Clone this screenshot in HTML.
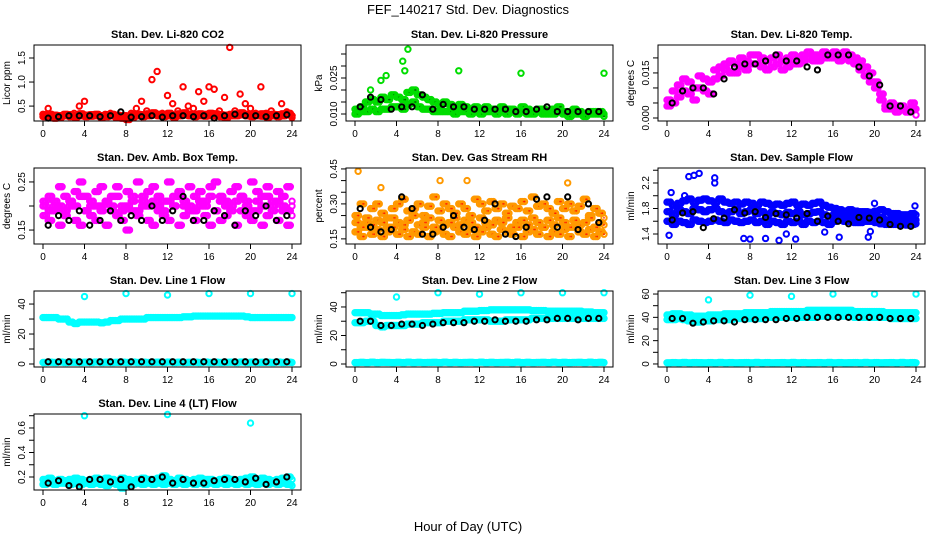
<!DOCTYPE html>
<html><head><meta charset="utf-8"><style>
html,body{margin:0;padding:0;background:#fff;}
svg{display:block;font-family:"Liberation Sans",Arial,sans-serif;}
</style></head><body>
<svg id="chart" width="936" height="540" viewBox="0 0 936 540" xmlns="http://www.w3.org/2000/svg">
<rect x="0" y="0" width="936" height="540" fill="#fff"/>
<text x="468" y="14" text-anchor="middle" font-size="13">FEF_140217  Std. Dev. Diagnostics</text>
<text x="468" y="531" text-anchor="middle" font-size="13">Hour of Day (UTC)</text>
</svg>
<script>
const xTicks=[0,4,8,12,16,20,24];

const co2Red1=[0.33,0.45,0.3,0.28,0.32,0.3,0.35,0.5,0.6,0.3,0.32,0.3,0.33,0.35,0.3,0.28,0.3,0.35,0.45,0.6,0.4,1.05,1.22,0.35,0.72,0.55,0.4,0.9,0.5,0.45,0.8,0.6,0.9,0.85,0.4,0.68,1.72,0.4,0.75,0.55,0.45,0.35,0.9,0.35,0.4,0.3,0.55,0.38,0.3];
const co2Red2=[0.28,0.3,0.25,0.27,0.3,0.28,0.27,0.3,0.28,0.29,0.3,0.27,0.28,0.3,0.26,0.25,0.22,0.27,0.3,0.28,0.3,0.33,0.3,0.28,0.3,0.27,0.3,0.32,0.3,0.28,0.3,0.29,0.3,0.3,0.28,0.26,0.3,0.3,0.32,0.3,0.28,0.3,0.29,0.27,0.3,0.28,0.3,0.32,0.26];
const co2Red3=[0.32,0.33,0.31,0.3,0.33,0.32,0.3,0.34,0.31,0.32,0.33,0.3,0.32,0.33,0.31,0.3,0.29,0.31,0.33,0.32,0.34,0.36,0.33,0.32,0.35,0.31,0.34,0.36,0.33,0.32,0.34,0.33,0.35,0.34,0.32,0.31,0.33,0.34,0.36,0.33,0.32,0.33,0.34,0.31,0.33,0.32,0.34,0.35,0.3];
const co2Black=[0.25,0.28,0.3,0.3,0.3,0.28,0.3,0.38,0.27,0.28,0.3,0.27,0.3,0.3,0.28,0.3,0.25,0.3,0.33,0.3,0.3,0.28,0.3,0.32];

const presGreen1=[0.012,0.013,0.015,0.016,0.015,0.017,0.016,0.018,0.017,0.016,0.019,0.02,0.018,0.017,0.016,0.015,0.014,0.015,0.014,0.013,0.014,0.013,0.012,0.013,0.012,0.013,0.012,0.012,0.013,0.012,0.012,0.011,0.013,0.012,0.011,0.012,0.012,0.011,0.012,0.013,0.011,0.011,0.012,0.011,0.01,0.011,0.011,0.011,0.01];
const presGreen2=[0.01,0.011,0.011,0.012,0.011,0.012,0.012,0.013,0.013,0.012,0.014,0.015,0.013,0.012,0.012,0.011,0.011,0.011,0.011,0.01,0.011,0.011,0.01,0.011,0.01,0.011,0.011,0.01,0.011,0.01,0.011,0.01,0.011,0.01,0.01,0.011,0.01,0.01,0.01,0.011,0.01,0.009,0.01,0.01,0.009,0.01,0.01,0.01,0.009];
const presOutX=[1.5,2.5,3,4.6,4.8,5.1,10,16,24];
const presOutY=[0.02,0.024,0.026,0.032,0.028,0.037,0.028,0.027,0.027];
const presBlack=[0.013,0.017,0.016,0.012,0.013,0.013,0.018,0.012,0.014,0.013,0.013,0.012,0.012,0.012,0.012,0.011,0.011,0.012,0.013,0.011,0.011,0.011,0.011,0.011];

const tempMag1=[0.006,0.009,0.011,0.013,0.012,0.010,0.014,0.013,0.012,0.016,0.017,0.018,0.019,0.018,0.02,0.019,0.021,0.021,0.02,0.019,0.02,0.021,0.019,0.02,0.021,0.02,0.021,0.022,0.021,0.021,0.022,0.021,0.022,0.021,0.022,0.021,0.02,0.019,0.017,0.015,0.012,0.008,0.004,0.005,0.004,0.004,0.003,0.005,0.003];
const tempMag2=[0.004,0.005,0.007,0.009,0.008,0.006,0.01,0.009,0.008,0.013,0.014,0.016,0.015,0.015,0.017,0.016,0.018,0.018,0.017,0.016,0.017,0.018,0.016,0.017,0.018,0.018,0.019,0.02,0.019,0.019,0.02,0.02,0.02,0.019,0.02,0.019,0.018,0.016,0.014,0.012,0.01,0.006,0.003,0.003,0.002,0.003,0.002,0.003,0.001];
const tempBlack=[0.005,0.009,0.01,0.01,0.008,0.013,0.017,0.018,0.018,0.019,0.021,0.019,0.019,0.017,0.016,0.021,0.021,0.021,0.017,0.014,0.011,0.004,0.004,0.002];

const ambMag1=[0.21,0.22,0.2,0.24,0.22,0.21,0.23,0.25,0.22,0.2,0.23,0.24,0.21,0.22,0.24,0.2,0.23,0.22,0.25,0.21,0.23,0.24,0.22,0.21,0.25,0.22,0.23,0.2,0.24,0.22,0.23,0.21,0.24,0.25,0.22,0.21,0.23,0.24,0.22,0.21,0.25,0.23,0.22,0.24,0.21,0.23,0.22,0.24,0.21];
const ambMag2=[0.18,0.17,0.19,0.16,0.18,0.2,0.17,0.16,0.19,0.18,0.17,0.2,0.16,0.19,0.18,0.17,0.15,0.19,0.18,0.2,0.17,0.16,0.19,0.18,0.17,0.2,0.16,0.18,0.19,0.17,0.2,0.18,0.16,0.19,0.17,0.18,0.2,0.16,0.19,0.18,0.17,0.19,0.16,0.18,0.2,0.17,0.19,0.16,0.18];
const ambMag3=[0.2,0.19,0.21,0.2,0.19,0.21,0.2,0.22,0.19,0.21,0.2,0.19,0.21,0.2,0.22,0.19,0.2,0.21,0.19,0.22,0.2,0.21,0.2,0.19,0.21,0.2,0.22,0.21,0.2,0.19,0.21,0.2,0.22,0.19,0.21,0.2,0.19,0.21,0.22,0.2,0.19,0.21,0.2,0.22,0.19,0.21,0.2,0.19,0.2];
const ambBlack=[0.16,0.18,0.17,0.19,0.16,0.17,0.19,0.17,0.18,0.17,0.2,0.17,0.19,0.22,0.17,0.17,0.19,0.18,0.16,0.19,0.18,0.2,0.17,0.18];

const rhOr1=[0.25,0.3,0.22,0.28,0.3,0.26,0.24,0.28,0.3,0.32,0.27,0.28,0.3,0.25,0.29,0.33,0.27,0.3,0.28,0.26,0.3,0.28,0.25,0.32,0.3,0.27,0.31,0.28,0.3,0.26,0.29,0.28,0.31,0.27,0.33,0.29,0.3,0.28,0.26,0.31,0.28,0.3,0.27,0.29,0.32,0.25,0.28,0.26,0.24];
const rhOr2=[0.18,0.16,0.2,0.17,0.19,0.16,0.18,0.2,0.17,0.19,0.16,0.18,0.17,0.2,0.16,0.18,0.19,0.17,0.16,0.2,0.18,0.17,0.19,0.16,0.18,0.2,0.17,0.16,0.19,0.18,0.17,0.2,0.16,0.18,0.19,0.17,0.2,0.16,0.18,0.17,0.19,0.16,0.2,0.18,0.17,0.19,0.16,0.18,0.17];
const rhOr3=[0.22,0.2,0.24,0.21,0.23,0.22,0.2,0.24,0.22,0.21,0.23,0.25,0.21,0.22,0.24,0.2,0.23,0.21,0.22,0.24,0.21,0.23,0.22,0.2,0.24,0.22,0.21,0.23,0.22,0.24,0.2,0.22,0.23,0.21,0.24,0.22,0.2,0.23,0.21,0.24,0.22,0.2,0.23,0.21,0.22,0.24,0.2,0.22,0.21];
const rhOutX=[0.3,2.5,8.2,10.8,20.5];
const rhOutY=[0.44,0.37,0.4,0.4,0.39];
const rhBlack=[0.28,0.2,0.18,0.19,0.33,0.28,0.17,0.17,0.2,0.25,0.2,0.19,0.23,0.3,0.17,0.16,0.2,0.32,0.33,0.2,0.33,0.19,0.3,0.22];

const flowBlue1=[1.9,1.85,1.88,1.92,1.95,1.9,1.93,1.95,1.92,1.9,1.95,1.9,1.88,1.9,1.87,1.9,1.88,1.85,1.9,1.88,1.85,1.87,1.85,1.88,1.9,1.85,1.87,1.85,1.88,1.9,1.85,1.82,1.8,1.78,1.76,1.78,1.76,1.75,1.75,1.74,1.76,1.78,1.75,1.72,1.72,1.7,1.7,1.72,1.7];
const flowBlue2=[1.6,1.55,1.6,1.58,1.55,1.62,1.6,1.58,1.6,1.62,1.6,1.58,1.62,1.6,1.58,1.6,1.62,1.58,1.6,1.55,1.6,1.58,1.55,1.6,1.58,1.6,1.55,1.6,1.58,1.6,1.58,1.55,1.6,1.62,1.6,1.6,1.58,1.58,1.6,1.6,1.58,1.56,1.55,1.55,1.55,1.55,1.54,1.55,1.56];
const flowBlue3=[1.75,1.7,1.78,1.75,1.72,1.8,1.78,1.75,1.78,1.8,1.75,1.72,1.75,1.78,1.72,1.75,1.78,1.72,1.75,1.7,1.74,1.72,1.7,1.74,1.72,1.75,1.7,1.72,1.74,1.75,1.7,1.68,1.7,1.7,1.68,1.68,1.66,1.66,1.68,1.66,1.65,1.66,1.62,1.62,1.62,1.62,1.6,1.62,1.62];
const flowOutX=[0.2,0.4,1.7,2.1,2.6,3.1,4.6,4.6,7.4,8,9.5,10.8,11.5,12.4,15.2,16.6,19.4,19.6,20,23.9];
const flowOutY=[1.38,2.05,2.0,2.3,2.32,2.35,2.28,2.2,1.33,1.32,1.33,1.3,1.4,1.32,1.43,1.35,1.35,1.44,1.88,1.84];
const flowBlack=[1.62,1.73,1.75,1.5,1.64,1.65,1.78,1.73,1.75,1.66,1.72,1.7,1.65,1.72,1.6,1.68,1.6,1.56,1.66,1.65,1.62,1.55,1.52,1.52];

const l1Cyan=[31,31,31,30,30,28,27,28,28,28,28,27.5,28,29,29,30,30,30,30,30,31,31,31,31,31,31,31,31.5,31.5,32,32,32,32,32,32,32,32,32,32,31.5,31,31,31,31,31,31,31,31,31];
const l1CyanLow=[1,1.2,1,1.3,1,1.2,1.1,1,1.2,1,1.3,1,1.2,1,1.1,1.2,1,1.3,1,1.2,1,1.1,1.2,1,1.3,1,1.2,1,1.1,1.2,1,1.3,1,1.2,1,1.1,1.2,1,1.3,1,1.2,1,1.1,1.2,1,1.3,1,1.2,1];
const l1Black=[1.5,1.5,1.5,1.5,1.5,1.5,1.5,1.5,1.5,1.5,1.5,1.5,1.5,1.5,1.5,1.5,1.5,1.5,1.5,1.5,1.5,1.5,1.5,1.5];
const l1OutX=[4,8,12,16,20,24];
const l1OutY=[45,47,46,47,47,47];

const l2Cyan=[36,36,36,35,35,34,34,34,34,34.5,35,35,35,35,35,35.5,35.5,36,36,36,36,37,37,37,37.5,37.5,38,38,38,38,38,38,38,38,37.5,37.5,37.5,37,37,37,37,37,37,37,36.5,36.5,36,36,36];
const l2Cyan2=[29,29,30,30,27,26,27,27,27,27,28,28,28,29,29,29,29,30,30,30,30,31,31,31,31,31,30,30,30,31,31,31,31,31,32,32,32,32,32,32,32,32,32,32,32,32,32,32,32];
const l2CyanLow=[1,1.2,1,1.3,1,1.2,1.1,1,1.2,1,1.3,1,1.2,1,1.1,1.2,1,1.3,1,1.2,1,1.1,1.2,1,1.3,1,1.2,1,1.1,1.2,1,1.3,1,1.2,1,1.1,1.2,1,1.3,1,1.2,1,1.1,1.2,1,1.3,1,1.2,1];
const l2Black=[30,30,27,27,28,28,27,28,29,29,29,30,30,31,30,30,30,31,31,32,32,31,32,32];
const l2OutX=[4,8,12,16,20,24];
const l2OutY=[47,50,49,50,50,50];

const l3Cyan=[42,43,43,42,42,41,41,41,42,42,42,43,43,43,43,44,44,44,44,44,45,45,45,45,45,45,45,46,46,46,46,46,46,46,46,46,45,45,45,45,45,45,44,44,44,44,44,44,44];
const l3Cyan2=[38,38,39,38,37,36,36,37,37,38,38,38,38,39,39,39,39,39,39,40,40,40,40,40,40,40,40,40,40,41,41,41,41,41,41,41,40,40,40,40,40,40,40,39,39,39,39,39,39];
const l3CyanLow=[1,1.2,1,1.3,1,1.2,1.1,1,1.2,1,1.3,1,1.2,1,1.1,1.2,1,1.3,1,1.2,1,1.1,1.2,1,1.3,1,1.2,1,1.1,1.2,1,1.3,1,1.2,1,1.1,1.2,1,1.3,1,1.2,1,1.1,1.2,1,1.3,1,1.2,1];
const l3Black=[39,39,35,36,37,37,36,38,38,38,38,39,39,40,40,40,40,40,40,40,40,39,39,39];
const l3OutX=[4,8,12,16,20,24];
const l3OutY=[55,59,58,60,60,60];

const l4Cyan=[0.18,0.19,0.17,0.18,0.17,0.18,0.19,0.18,0.17,0.18,0.19,0.18,0.19,0.18,0.17,0.19,0.18,0.17,0.18,0.19,0.18,0.18,0.19,0.21,0.18,0.17,0.19,0.18,0.17,0.18,0.19,0.18,0.18,0.17,0.18,0.19,0.18,0.17,0.18,0.19,0.2,0.18,0.19,0.18,0.17,0.18,0.19,0.2,0.18];
const l4Cyan2=[0.14,0.15,0.14,0.15,0.15,0.14,0.15,0.14,0.15,0.14,0.15,0.14,0.13,0.15,0.14,0.11,0.15,0.14,0.15,0.14,0.15,0.14,0.15,0.14,0.15,0.14,0.15,0.14,0.15,0.14,0.15,0.14,0.15,0.14,0.15,0.14,0.15,0.14,0.15,0.14,0.15,0.14,0.15,0.14,0.15,0.14,0.15,0.14,0.13];
const l4Black=[0.15,0.17,0.13,0.12,0.18,0.18,0.16,0.18,0.12,0.18,0.18,0.2,0.15,0.18,0.15,0.15,0.17,0.18,0.18,0.16,0.19,0.14,0.16,0.2];
const l4OutX=[4,12,20];
const l4OutY=[0.7,0.71,0.64];

const panels=[
 {name:'co2',title:'Stan. Dev. Li-820 CO2',ylab:'Licor ppm',c:0,r:0,ymin:0.19,ymax:1.77,ticks:[0.5,1,1.5],labels:['0.5','1.0','1.5'],col:'#ff0000',series:[co2Red1,co2Red2,co2Red3],sparse:[co2Red1],ox:[],oy:[],black:co2Black},
 {name:'pressure',title:'Stan. Dev. Li-820 Pressure',ylab:'kPa',c:1,r:0,ymin:0.00708,ymax:0.03875,ticks:[0.01,0.015,0.02,0.025,0.03,0.035],labels:['0.010','','','0.025','',''],col:'#00dd00',inner:'#006600',series:[presGreen1,presGreen2],ox:presOutX,oy:presOutY,black:presBlack},
 {name:'temp',title:'Stan. Dev. Li-820 Temp.',ylab:'degrees C',c:2,r:0,ymin:-0.001,ymax:0.0243,ticks:[0,0.005,0.01,0.015,0.02],labels:['0.000','','','0.015',''],col:'#ff00ff',series:[tempMag1,tempMag2],ox:[],oy:[],black:tempBlack},
 {name:'amb-box',title:'Stan. Dev. Amb. Box Temp.',ylab:'degrees C',c:0,r:1,ymin:0.121,ymax:0.279,ticks:[0.15,0.2,0.25],labels:['0.15','','0.25'],col:'#ff00ff',series:[ambMag1,ambMag2,ambMag3],ox:[],oy:[],black:ambBlack},
 {name:'rh',title:'Stan. Dev. Gas Stream RH',ylab:'percent',c:1,r:1,ymin:0.128,ymax:0.454,ticks:[0.15,0.2,0.25,0.3,0.35,0.4,0.45],labels:['0.15','','','0.30','','','0.45'],col:'#ff9900',inner:'#ff2200',series:[rhOr1,rhOr2,rhOr3],ox:rhOutX,oy:rhOutY,black:rhBlack},
 {name:'sample-flow',title:'Stan. Dev. Sample Flow',ylab:'ml/min',c:2,r:1,ymin:1.243,ymax:2.435,ticks:[1.4,1.6,1.8,2.0,2.2,2.4],labels:['1.4','','1.8','','2.2',''],col:'#0000ff',series:[flowBlue1,flowBlue2,flowBlue3],ox:flowOutX,oy:flowOutY,black:flowBlack},
 {name:'line1',title:'Stan. Dev. Line 1 Flow',ylab:'ml/min',c:0,r:2,ymin:-2,ymax:48.7,ticks:[0,10,20,30,40],labels:['0','','20','','40'],col:'#00ffff',series:[l1Cyan,l1CyanLow],ox:l1OutX,oy:l1OutY,black:l1Black},
 {name:'line2',title:'Stan. Dev. Line 2 Flow',ylab:'ml/min',c:1,r:2,ymin:-2.1,ymax:51.2,ticks:[0,10,20,30,40,50],labels:['0','','20','','40',''],col:'#00ffff',series:[l2Cyan,l2Cyan2,l2CyanLow],ox:l2OutX,oy:l2OutY,black:l2Black},
 {name:'line3',title:'Stan. Dev. Line 3 Flow',ylab:'ml/min',c:2,r:2,ymin:-2.6,ymax:62.6,ticks:[0,10,20,30,40,50,60],labels:['0','','20','','40','','60'],col:'#00ffff',series:[l3Cyan,l3Cyan2,l3CyanLow],ox:l3OutX,oy:l3OutY,black:l3Black},
 {name:'line4',title:'Stan. Dev. Line 4 (LT) Flow',ylab:'ml/min',c:0,r:3,ymin:0.094,ymax:0.714,ticks:[0.2,0.3,0.4,0.5,0.6,0.7],labels:['0.2','','0.4','','0.6',''],col:'#00ffff',series:[l4Cyan,l4Cyan2],ox:l4OutX,oy:l4OutY,black:l4Black}
];

const svg=document.getElementById('chart');
const NS='http://www.w3.org/2000/svg';
function mk(tag,attrs,parent){const e=document.createElementNS(NS,tag);for(const k in attrs)e.setAttribute(k,attrs[k]);parent.appendChild(e);return e;}
const dupOffsets=[0,0.17,0.34];

panels.forEach(p=>{
  const L=34+312*p.c, R=301+312*p.c, T=45+123*p.r, B=121+123*p.r;
  const xs=h=>43+312*p.c+h*249/24;
  const ys=v=>B-(v-p.ymin)/(p.ymax-p.ymin)*(B-T);
  const g=mk('g',{},svg);
  
  
  const t=mk('text',{x:(L+R)/2,y:T-7,'text-anchor':'middle','font-size':'11','font-weight':'bold'},g);
  t.textContent=p.title;
  
  
  const yl=mk('text',{x:0,y:0,'text-anchor':'middle','font-size':'10',transform:`translate(${L-24},${(T+B)/2}) rotate(-90)`},g);
  yl.textContent=p.ylab;
  
  
  const pts=mk('g',{fill:'none'},g);
  
  
  p.series.forEach(arr=>{
    const offs=(p.sparse&&p.sparse.includes(arr))?[0]:dupOffsets;
    arr.forEach((v,i)=>{
      offs.forEach(o=>{
        if(i*0.5+o>24.1)return;
        const c=mk('circle',{cx:xs(i*0.5+o),cy:ys(v),r:2.7,stroke:p.col,'stroke-width':2},pts);
        
        
        if(p.inner){const c2=mk('circle',{cx:xs(i*0.5+o),cy:ys(v),r:0.9,fill:p.inner},pts);
          
          }
      });
    });
  });
  p.ox.forEach((x,i)=>{
    const c=mk('circle',{cx:xs(x),cy:ys(p.oy[i]),r:2.7,stroke:p.col,'stroke-width':2},pts);
    
    
  });
  p.black.forEach((v,i)=>{
    const c=mk('circle',{cx:xs(0.5+i),cy:ys(v),r:2.6,stroke:'#000','stroke-width':2},pts);
    
    
  });
  const bx=mk('rect',{x:L,y:T,width:R-L,height:B-T,fill:'none',stroke:'#000','stroke-width':1},g);
  
  
  p.ticks.forEach((v,i)=>{
    const y=ys(v);
    const tk=mk('line',{x1:L-5,x2:L,y1:y,y2:y,stroke:'#000'},g);
    
    
    if(p.labels[i]){
      const tl=mk('text',{x:0,y:0,'text-anchor':'middle','font-size':'10',transform:`translate(${L-9},${y}) rotate(-90)`},g);
      tl.textContent=p.labels[i];
      
      
    }
  });
  xTicks.forEach(h=>{
    const x=xs(h);
    const tk=mk('line',{x1:x,x2:x,y1:B,y2:B+5,stroke:'#000'},g);
    
    
    const tl=mk('text',{x:x,y:B+16,'text-anchor':'middle','font-size':'10'},g);
    tl.textContent=String(h);
    
    
  });
});
</script>
</body></html>
